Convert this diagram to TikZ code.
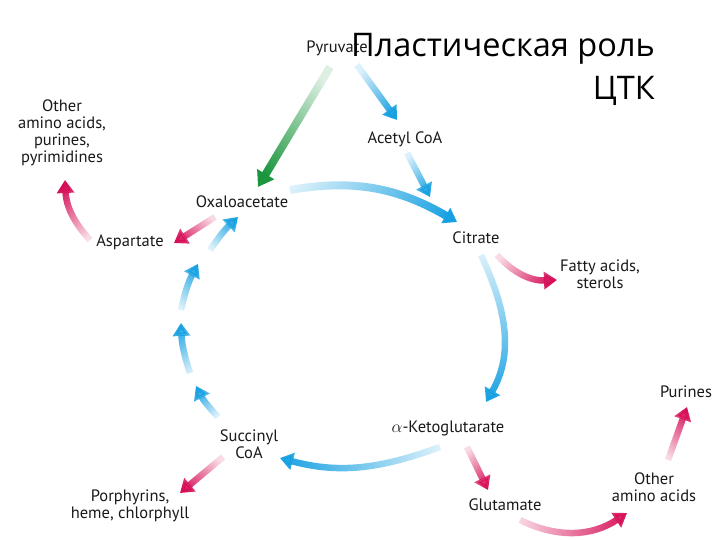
\documentclass[tikz,border=0pt]{standalone}
\usepackage{fontspec}
\setmainfont{PT Sans}
\newfontfamily\titlefont{Open Sans}
\usetikzlibrary{positioning,calc,arrows.meta,fadings}

\definecolor{cycblue}{RGB}{22,160,225}
\definecolor{sidepink}{RGB}{214,16,88}
\definecolor{pyrgreen}{RGB}{28,150,62}
\tikzfading[name=tailfade, left color=transparent!85, right color=transparent!0]

\begin{document}
\begin{tikzpicture}[x=1pt, y=1pt,
    metab/.style={font=\fontsize{16.5}{17}\selectfont, align=center, inner sep=1pt, text=black!90},
    cycarrow/.style={-{Triangle[length=13pt, width=17pt]}, draw=cycblue, line width=6.5pt, path fading=tailfade},
    sidearrow/.style={-{Triangle[length=13pt, width=17pt]}, draw=sidepink, line width=6.5pt, path fading=tailfade},
    pyrarrow/.style={-{Triangle[length=15pt, width=19pt]}, draw=pyrgreen, line width=8pt, path fading=tailfade}
    ]
        \useasboundingbox (0,0) rectangle (720,-540);
        %Nodes
        \node[metab] (pyr)     at (337,-48)  {Pyruvate};
        \node[metab] (acetyl)  at (405,-139) {Acetyl CoA};
        \node[metab] (oxalo)   at (242,-202) {Oxaloacetate};
        \node[metab] (citrate) at (476,-238) {Citrate};
        \node[metab] (fatty)   at (600,-274) {Fatty acids,\\sterols};
        \node[metab] (akg)     at (448,-428) {$\alpha$-Ketoglutarate};
        \node[metab] (glu)     at (505,-505) {Glutamate};
        \node[metab] (aminoR)  at (654,-487) {Other\\amino acids};
        \node[metab] (purines) at (686,-392) {Purines};
        \node[metab] (succ)    at (249,-444) {Succinyl\\CoA};
        \node[metab] (porph)   at (130,-506) {Porphyrins,\\heme, chlorphyll};
        \node[metab] (asp)     at (130,-242) {Aspartate};
        \node[metab] (aminoL)  at (62,-133)  {Other\\amino acids,\\purines,\\pyrimidines};
        \coordinate (c1) at (193,-380);
        \coordinate (c2) at (181,-316);
        \coordinate (c3) at (203,-258);
        \node[font=\titlefont\fontsize{32.5}{43}\selectfont, align=right, inner sep=0pt, anchor=north east]
            (title) at (655,-33) {Пластическая роль\\ЦТК};

        %Lines
        \draw[cycarrow, fading angle=-54]
            ($(pyr)+(20,-17)$) -- ($(acetyl)+(-8,19)$);
        \draw[cycarrow, fading angle=-62]
            ($(acetyl)+(2,-14)$) -- ($(citrate)+(-46,41)$);
        \draw[pyrarrow, fading angle=-121]
            ($(pyr)+(-7,-19)$) -- ($(oxalo)+(16,15)$);
        \draw[cycarrow, line width=8pt, fading angle=-11]
            ($(oxalo)+(48,12)$) to[out=10, in=150] ($(citrate)+(-19,16)$);
        \draw[cycarrow, fading angle=-88]
            ($(citrate)+(5,-17)$) to[out=-65, in=60] ($(akg)+(38,26)$);
        \draw[cycarrow, fading angle=184]
            ($(akg)+(-8,-19)$) to[out=200, in=-15] ($(succ)+(31,-14)$);
        \draw[cycarrow, fading angle=125]
            ($(succ)+(-31,27)$) to[bend left=8] ($(c1)+(3,-6)$);
        \draw[cycarrow, fading angle=100]
            ($(c1)+(-3,7)$) to[bend left=8] ($(c2)+(0,-7)$);
        \draw[cycarrow, fading angle=70]
            ($(c2)+(0,6)$) to[bend left=8] ($(c3)+(-5,-6)$);
        \draw[cycarrow, fading angle=53]
            ($(c3)+(7,8)$) to[bend left=6] ($(oxalo)+(-4,-15)$);

        \draw[sidearrow, fading angle=-148]
            ($(oxalo)+(-27,-15)$) -- ($(asp)+(44,-1)$);
        \draw[sidearrow, fading angle=113]
            ($(asp)+(-40,2)$) to[bend left=20] ($(aminoL)+(3,-47)$);
        \draw[sidearrow, fading angle=-23]
            ($(citrate)+(21,-17)$) to[bend right=25] ($(fatty)+(-43,-6)$);
        \draw[sidearrow, fading angle=-140]
            ($(succ)+(-26,-13)$) -- ($(porph)+(50,13)$);
        \draw[sidearrow, fading angle=-64]
            ($(akg)+(19,-19)$) -- ($(glu)+(-17,15)$);
        \draw[sidearrow, fading angle=0]
            ($(glu)+(15,-15)$) to[bend right=30] ($(aminoR)+(-27,-26)$);
        \draw[sidearrow, fading angle=70]
            ($(aminoR)+(14,27)$) -- ($(purines)+(1,-15)$);
    \end{tikzpicture}
\end{document}
